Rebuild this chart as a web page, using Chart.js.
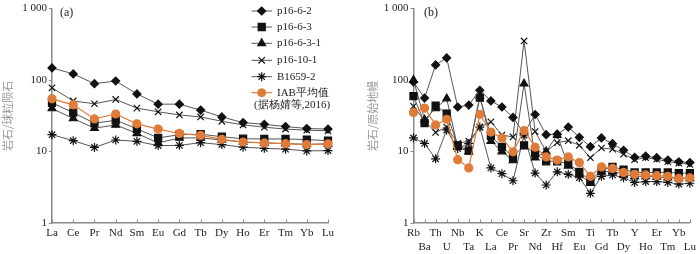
<!DOCTYPE html>
<html lang="zh">
<head>
  <meta charset="UTF-8" />
  <title>稀土元素与微量元素配分图</title>
  <script src="https://cdn.jsdelivr.net/npm/chart.js@4"></script>
  <style>
    body {
      margin: 0;
      background: #fff;
    }
    .wrap {
      position: relative;
      width: 700px;
      height: 254px;
    }
    .panel {
      position: absolute;
      top: 0;
    }
    #panelA { left: 0; }
    #panelB { left: 350px; }
  </style>
</head>
<body>
  <div class="wrap">
    <div class="panel" id="panelA"><canvas id="reeChart" width="350" height="254"></canvas></div>
    <div class="panel" id="panelB"><canvas id="spiderChart" width="350" height="254"></canvas></div>
  </div>

  <script>
    // --- (a) chondrite-normalised REE
    const reeLabels = ['La', 'Ce', 'Pr', 'Nd', 'Sm', 'Eu', 'Gd', 'Tb', 'Dy', 'Ho', 'Er', 'Tm', 'Yb', 'Lu'];
    const ree_p16_6_2   = [148, 122, 89, 97, 64, 46, 46, 38, 30.5, 25.4, 24, 22.4, 21, 20.6];
    const ree_p16_6_3   = [48, 35, 24.9, 27.4, 20.8, 15.5, 17.2, 17.5, 16.1, 15.1, 15, 15, 14.7, 14.2];
    const ree_p16_6_3_1 = [40, 29, 21.2, 23.6, 17.9, 13.2, 15.5, 15.5, 14.5, 13.6, 13.2, 12.9, 12.6, 12.8];
    const ree_p16_10_1  = [78, 51, 46.6, 53.5, 40.5, 36, 32.5, 30.5, 26.5, 23.6, 21.9, 20.6, 19.9, 19.5];
    const ree_B1659_2   = [17.2, 14.2, 11.4, 14.5, 13.9, 12.1, 12.2, 13.3, 12.5, 11.5, 11.1, 10.8, 10.2, 10.3];
    const ree_IAB       = [54.6, 45, 28.6, 33.5, 24.4, 20.6, 17.9, 16.8, 14.8, 13.6, 13.2, 12.9, 12.5, 12.8];

    // --- (b) primitive-mantle-normalised spider
    const spLabels = ['Rb', 'Ba', 'Th', 'U', 'Nb', 'Ta', 'K', 'La', 'Ce', 'Pr', 'Sr', 'Nd', 'Zr',
                      'Hf', 'Sm', 'Eu', 'Ti', 'Gd', 'Tb', 'Dy', 'Y', 'Ho', 'Er', 'Tm', 'Yb', 'Lu'];
    const sp_p16_6_2   = [94, 56, 163, 204, 42, 44.7, 72, 51, 42, 30, 18, 33, 17.2, 17.5, 22, 15.8, 11.7, 15.5, 12.9, 10.4, 8.3, 8.6, 8.2, 7.6, 7.2, 7.0];
    const sp_p16_6_3   = [59.5, 25, 44, 34, 12.2, 10.3, 57, 16.6, 11.6, 8.4, 12.2, 9.4, 7.3, 7.3, 6.8, 5.2, 3.9, 5.5, 6.1, 5.6, 5.1, 5.1, 5.1, 5.1, 5.0, 5.0];
    const sp_p16_6_3_1 = [100, 28, 40, 55, 11.5, 10, 60, 14, 10, 7.5, 89, 8.2, 10, 17, 6.3, 4.8, 3.6, 5.2, 5.3, 4.8, 4.5, 4.5, 4.4, 4.3, 4.2, 4.2];
    const sp_p16_10_1  = [43, 27, 18.5, 22, 13, 14, 22, 26, 17, 16, 353, 19, 10, 13.3, 14.2, 12.2, 8.2, 11.2, 10.8, 9.2, 7.7, 8.2, 7.8, 7.2, 6.9, 6.6];
    const sp_B1659_2   = [15.5, 13, 7.9, 20, 11, 13, 22, 5.9, 4.9, 3.9, 17, 5, 3.4, 5.2, 4.8, 4.3, 2.6, 4.5, 4.7, 4.3, 3.7, 3.8, 3.8, 3.7, 3.5, 3.6];
    const sp_IAB       = [35.3, 40.6, 23.6, 28.3, 7.7, 5.9, 33.2, 18.7, 15.5, 9.9, 19.7, 11.5, 8.4, 7.6, 8.4, 7.0, 4.5, 6.1, 5.8, 5.1, 4.8, 4.7, 4.6, 4.5, 4.2, 4.3];

    const yTicks = [1, 10, 100, 1000];

    const serif = "'Liberation Serif', 'Times New Roman', serif";
    const axisGrey = '#8a8a8a';
    const lineGrey = '#555';
    const black = '#111';
    const orange = '#e07b39';

    function sampleSet(label, data, style, radius) {
      return {
        label: label,
        data: data,
        borderColor: lineGrey,
        borderWidth: 1,
        pointStyle: style,
        pointRadius: radius,
        pointBackgroundColor: black,
        pointBorderColor: black,
        pointBorderWidth: 1.2,
        tension: 0
      };
    }

    function makeSets(d) {
      return [
        sampleSet('p16-6-2', d[0], 'rectRot', 4),
        sampleSet('p16-6-3', d[1], 'rect', 5),
        sampleSet('p16-6-3-1', d[2], 'triangle', 4.5),
        sampleSet('p16-10-1', d[3], 'crossRot', 4.5),
        sampleSet('B1659-2', d[4], 'star', 4.5),
        {
          label: 'IAB平均值\n(据杨婧等,2016)',
          data: d[5],
          borderColor: orange,
          borderWidth: 1.2,
          pointStyle: 'circle',
          pointRadius: 4,
          pointBackgroundColor: orange,
          pointBorderColor: orange,
          order: -1
        }
      ];
    }

    // inward tick marks on the x axis + panel tag + legend
    const decorPlugin = {
      id: 'decor',
      afterDraw(chart, args, opts) {
        const ctx = chart.ctx;
        const xs = chart.scales.x;
        const area = chart.chartArea;
        ctx.save();
        ctx.strokeStyle = axisGrey;
        ctx.lineWidth = 1;
        xs.ticks.forEach((t, i) => {
          const px = Math.round(xs.getPixelForTick(i)) + 0.5;
          ctx.beginPath();
          ctx.moveTo(px, area.bottom);
          ctx.lineTo(px, area.bottom - 3.5);
          ctx.stroke();
        });

        ctx.fillStyle = '#222';
        ctx.font = '12px ' + serif;
        ctx.textBaseline = 'middle';
        ctx.textAlign = 'left';
        ctx.fillText(opts.tag, opts.tagX, 13);

        if (opts.legend) {
          const rowY = [11, 27, 43.3, 60.3, 76.7, 92.7];
          ctx.font = '11px ' + serif;
          chart.data.datasets.forEach((ds, i) => {
            const y = rowY[i];
            ctx.strokeStyle = ds.borderColor;
            ctx.lineWidth = ds.borderWidth;
            ctx.beginPath();
            ctx.moveTo(251.5, y);
            ctx.lineTo(272, y);
            ctx.stroke();
            ctx.fillStyle = ds.pointBackgroundColor;
            ctx.strokeStyle = ds.pointBorderColor;
            ctx.lineWidth = ds.pointBorderWidth || 1;
            Chart.helpers.drawPoint(ctx, {
              pointStyle: ds.pointStyle, radius: ds.pointRadius, rotation: 0, borderWidth: ctx.lineWidth
            }, 261.7, y);
            ctx.fillStyle = '#222';
            ds.label.split('\n').forEach((s, k) => {
              ctx.fillText(s, k === 0 ? 277 : 254, y + k * 12);
            });
          });
        }
        ctx.restore();
      }
    };

    function makeChart(canvasId, labels, sets, cfg) {
      return new Chart(document.getElementById(canvasId).getContext('2d'), {
        type: 'line',
        data: { labels: labels, datasets: sets },
        plugins: [decorPlugin],
        options: {
          responsive: false,
          animation: false,
          layout: { padding: { left: cfg.padLeft, right: cfg.padRight, top: 6, bottom: 0 } },
          plugins: {
            legend: { display: false },
            tooltip: { enabled: false },
            decor: { tag: cfg.tag, tagX: cfg.tagX, legend: cfg.legend }
          },
          scales: {
            x: {
              type: 'category',
              offset: false,
              grid: { display: false, drawTicks: false },
              border: { display: true, color: axisGrey, width: 1.5 },
              afterFit: s => { s.height = 31; },
              ticks: {
                autoSkip: false,
                maxRotation: 0,
                padding: 4,
                color: '#222',
                font: { family: serif, size: 11 },
                callback: cfg.xLabel
              }
            },
            y: {
              type: 'logarithmic',
              min: 1,
              max: 1000,
              afterBuildTicks: s => { s.ticks = yTicks.map(v => ({ value: v })); },
              afterFit: s => { s.width = cfg.yWidth; },
              grid: { drawOnChartArea: false, drawTicks: true, tickLength: 3, color: axisGrey },
              border: { display: true, color: axisGrey, width: 1.5 },
              ticks: {
                padding: 2,
                color: '#222',
                font: { family: serif, size: 11 },
                callback: v => (v === 1000 ? '1 000' : String(v))
              },
              title: {
                display: true,
                text: cfg.yTitle,
                color: '#9a9a9a',
                padding: { top: 1, bottom: 0 },
                font: { family: "'Noto Sans CJK SC', sans-serif", size: 11 }
              }
            }
          }
        }
      });
    }

    makeChart('reeChart', reeLabels,
      makeSets([ree_p16_6_2, ree_p16_6_3, ree_p16_6_3_1, ree_p16_10_1, ree_B1659_2, ree_IAB]), {
        padLeft: 0, padRight: 22, yWidth: 52, tag: '(a)', tagX: 60, legend: true,
        yTitle: '岩石/球粒陨石',
        xLabel: function (v, i) { return reeLabels[i]; }
      });

    makeChart('spiderChart', spLabels,
      makeSets([sp_p16_6_2, sp_p16_6_3, sp_p16_6_3_1, sp_p16_10_1, sp_B1659_2, sp_IAB]), {
        padLeft: 15, padRight: 9, yWidth: 48.5, tag: '(b)', tagX: 74, legend: false,
        yTitle: '岩石/原始地幔',
        xLabel: function (v, i) { return i % 2 === 0 ? spLabels[i] : ['', spLabels[i]]; }
      });
  </script>
</body>
</html>
